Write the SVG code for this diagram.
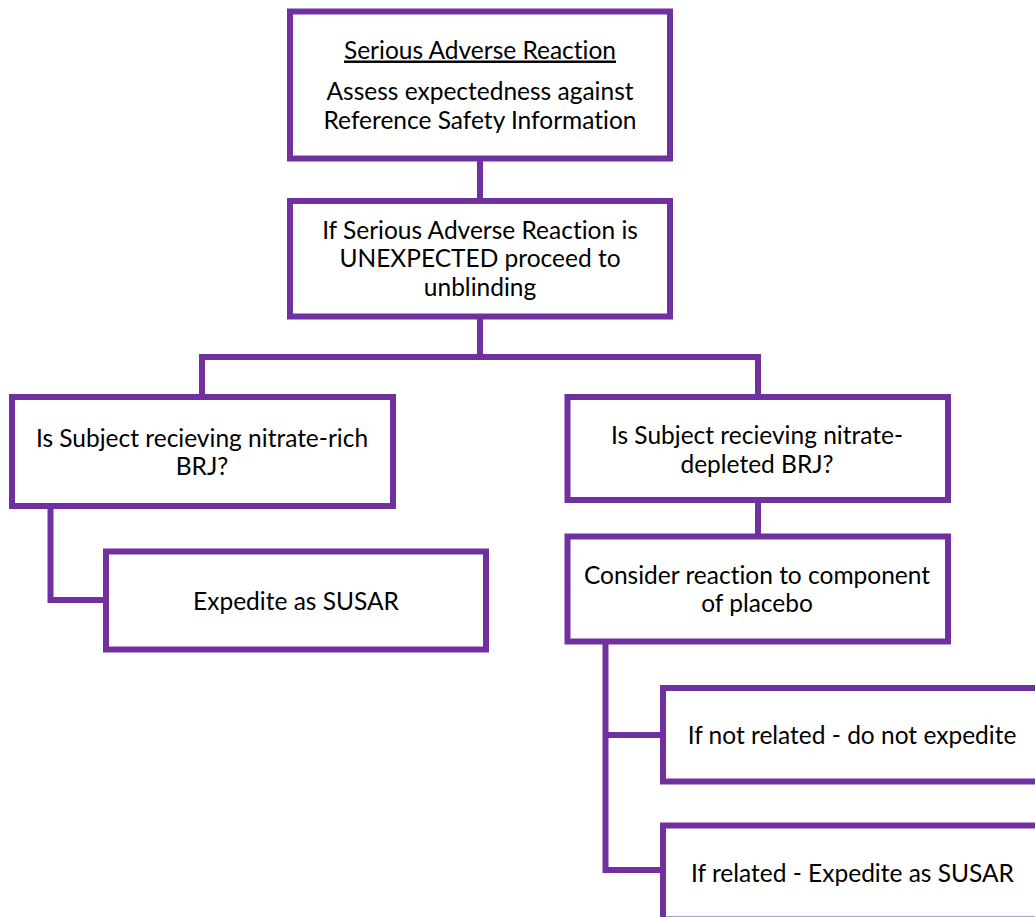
<svg xmlns="http://www.w3.org/2000/svg" width="1035" height="917" viewBox="0 0 1035 917">
<style>
.box{fill:#fff;stroke:#7030A0;stroke-width:6}
.con{fill:none;stroke:#7030A0;stroke-width:6}
text{font-family:Lato,"Open Sans",sans-serif;font-size:24.5px;fill:#000;text-anchor:middle;font-variant-ligatures:none;font-feature-settings:"liga" 0,"clig" 0}
</style>
<rect width="1035" height="917" fill="#fff"/>
<g id="connectors">
<path class="con" d="M480 158.5V201"/>
<path class="con" d="M480 316.5V357M202 397V357H758V397"/>
<path class="con" d="M50.5 506V600H106"/>
<path class="con" d="M758 500V536.5"/>
<path class="con" d="M605.5 641.5V870H663M605.5 735H663"/>
</g>
<g id="n1">
<rect class="box" x="290" y="11.5" width="380" height="147"/>
<text x="480" y="58.5" text-decoration="underline">Serious Adverse Reaction</text>
<text x="480" y="99.5">Assess expectedness against</text>
<text x="480" y="128.5">Reference Safety Information</text>
</g>
<g id="n2">
<rect class="box" x="290" y="201" width="380" height="115.5"/>
<text x="480" y="238.5">If Serious Adverse Reaction is</text>
<text x="480" y="267">UNEXPECTED proceed to</text>
<text x="480" y="295.5">unblinding</text>
</g>
<g id="n3">
<rect class="box" x="12" y="397" width="381" height="109"/>
<text x="202" y="446.5">Is Subject recieving nitrate-rich</text>
<text x="202" y="474.5">BRJ?</text>
</g>
<g id="n4">
<rect class="box" x="106" y="551.5" width="380" height="98"/>
<text x="296" y="609.5">Expedite as SUSAR</text>
</g>
<g id="n5">
<rect class="box" x="567.5" y="397" width="380.5" height="103"/>
<text x="757" y="443.5">Is Subject recieving nitrate-</text>
<text x="757" y="472.5">depleted BRJ?</text>
</g>
<g id="n6">
<rect class="box" x="567.5" y="536.5" width="380.5" height="105"/>
<text x="757" y="583.5">Consider reaction to component</text>
<text x="757" y="611.5">of placebo</text>
</g>
<g id="n7">
<rect class="box" x="663" y="688" width="380" height="93.5"/>
<text x="852" y="743.5">If not related - do not expedite</text>
</g>
<g id="n8">
<rect class="box" x="663" y="825.5" width="380" height="94"/>
<text x="852.5" y="881.5">If related - Expedite as SUSAR</text>
</g>
</svg>
